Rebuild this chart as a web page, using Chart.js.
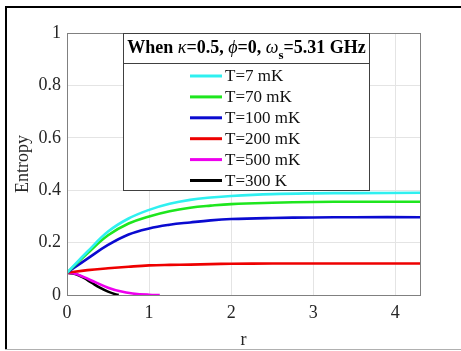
<!DOCTYPE html>
<html>
<head>
<meta charset="utf-8">
<script src="https://cdn.jsdelivr.net/npm/chart.js@4.4.0/dist/chart.umd.min.js"></script>
<style>
  html, body { margin: 0; padding: 0; background: #fff; }
</style>
</head>
<body>
<canvas id="entropyChart" width="461" height="351"></canvas>
<script>
// r values (x axis)
const rMain = [0, 0.25, 0.5, 0.75, 1, 1.25, 1.5, 1.75, 2, 2.5, 3, 3.5, 4.3];
const rMagenta = [0, 0.1, 0.2, 0.35, 0.5, 0.65, 0.8, 1.0, 1.13];
const rBlack = [0, 0.1, 0.2, 0.3, 0.4, 0.5, 0.6, 0.63];

// entropy values
const s7mK = [0.085, 0.166, 0.242, 0.292, 0.325, 0.348, 0.363, 0.372, 0.378, 0.385, 0.388, 0.389, 0.390];
const s70mK = [0.085, 0.159, 0.228, 0.273, 0.300, 0.320, 0.333, 0.341, 0.347, 0.352, 0.355, 0.356, 0.356];
const s100mK = [0.085, 0.139, 0.191, 0.231, 0.254, 0.268, 0.277, 0.285, 0.290, 0.294, 0.296, 0.297, 0.297];
const s200mK = [0.085, 0.095, 0.102, 0.108, 0.113, 0.115, 0.116, 0.118, 0.119, 0.120, 0.120, 0.120, 0.120];
const s500mK = [0.085, 0.081, 0.069, 0.048, 0.028, 0.014, 0.006, 0.001, 0];
const s300K = [0.085, 0.080, 0.066, 0.047, 0.028, 0.013, 0.002, 0];

const seriesLabels = ['T=7 mK', 'T=70 mK', 'T=100 mK', 'T=200 mK', 'T=500 mK', 'T=300 K'];
const seriesColors = ['#2ff0f0', '#1ee61e', '#0a0ad0', '#ee0000', '#ee00ee', '#000000'];
const xTicks = [0, 1, 2, 3, 4];

const serif = '"Liberation Serif", "DejaVu Serif", serif';

function pts(xs, ys) {
    return xs.map((x, i) => ({ x: x, y: ys[i] }));
}

// frame round the figure and box round the axes
const framePlugin = {
    id: 'framePlugin',
    beforeDraw(chart) {
        const c = chart.ctx;
        c.save();
        c.fillStyle = '#fff';
        c.fillRect(0, 0, chart.width, chart.height);
        c.strokeStyle = '#000';
        c.lineWidth = 2;
        c.beginPath();
        c.moveTo(5, 7);
        c.lineTo(461, 7);
        c.moveTo(6, 6);
        c.lineTo(6, 350);
        c.stroke();
        c.strokeStyle = '#b0b0b0';
        c.lineWidth = 1;
        c.beginPath();
        c.moveTo(5, 349.5);
        c.lineTo(461, 349.5);
        c.stroke();
        c.restore();
    },
    afterDatasetsDraw(chart) {
        const a = chart.chartArea;
        const c = chart.ctx;
        c.save();
        c.strokeStyle = '#808080';
        c.lineWidth = 1;
        c.strokeRect(Math.round(a.left) + 0.5, Math.round(a.top) + 0.5,
            Math.round(a.right - a.left), Math.round(a.bottom - a.top));
        c.restore();
    }
};

// legend box with the title row, placed inside the axes
const boxLegendPlugin = {
    id: 'boxLegend',
    afterDraw(chart) {
        const c = chart.ctx;
        const x0 = 123.5, y0 = 33.5, x1 = 369.5, ySep = 63.5, y1 = 190.5;
        c.save();
        c.fillStyle = '#fff';
        c.fillRect(x0, y0, x1 - x0, y1 - y0);
        c.strokeStyle = '#404040';
        c.lineWidth = 1;
        c.strokeRect(x0, y0, x1 - x0, y1 - y0);
        c.beginPath();
        c.moveTo(x0, ySep);
        c.lineTo(x1, ySep);
        c.stroke();

        // title with greek letters and subscript
        const fs = 18;
        const parts = [
            { t: 'When ', f: `bold ${fs}px ${serif}` },
            { t: 'κ', f: `italic ${fs}px ${serif}` },
            { t: '=0.5, ', f: `bold ${fs}px ${serif}` },
            { t: 'ϕ', f: `italic ${fs}px ${serif}` },
            { t: '=0, ', f: `bold ${fs}px ${serif}` },
            { t: 'ω', f: `italic ${fs}px ${serif}` },
            { t: 's', f: `bold ${fs * 0.72}px ${serif}`, sub: true },
            { t: '=5.31 GHz', f: `bold ${fs}px ${serif}` }
        ];
        let total = 0;
        parts.forEach(p => { c.font = p.f; p.w = c.measureText(p.t).width; total += p.w; });
        let tx = (x0 + x1) / 2 - total / 2;
        const base = 52.5;
        c.fillStyle = '#000';
        c.textBaseline = 'alphabetic';
        c.textAlign = 'left';
        parts.forEach(p => {
            c.font = p.f;
            c.fillText(p.t, tx, p.sub ? base + 6 : base);
            tx += p.w;
        });

        // entries
        const ds = chart.data.datasets;
        c.font = `17px ${serif}`;
        c.textBaseline = 'middle';
        ds.forEach((d, i) => {
            const yy = 76 + i * 20.9;
            c.strokeStyle = d.borderColor;
            c.lineWidth = 3;
            c.beginPath();
            c.moveTo(190, yy);
            c.lineTo(222, yy);
            c.stroke();
            c.fillStyle = '#111';
            c.fillText(d.label, 225, yy + 1);
        });
        c.restore();
    }
};

const allX = [rMain, rMain, rMain, rMain, rMagenta, rBlack];
const allY = [s7mK, s70mK, s100mK, s200mK, s500mK, s300K];

const datasets = seriesLabels.map((lab, i) => ({
    label: lab,
    data: pts(allX[i], allY[i]),
    borderColor: seriesColors[i],
    backgroundColor: seriesColors[i],
    borderWidth: 2.6,
    pointRadius: 0,
    fill: false,
    tension: 0.4
}));

new Chart(document.getElementById('entropyChart').getContext('2d'), {
    type: 'line',
    data: { datasets: datasets },
    options: {
        responsive: false,
        animation: false,
        layout: { padding: { left: 0, top: 33, right: 41, bottom: 0 } },
        plugins: {
            legend: { display: false },
            tooltip: { enabled: false }
        },
        scales: {
            x: {
                type: 'linear',
                min: 0,
                max: 4.3,
                afterBuildTicks: s => { s.ticks = xTicks.map(v => ({ value: v })); },
                afterFit: s => { s.height = 56; },
                grid: { color: '#e4e4e4', drawTicks: false },
                border: { display: false },
                ticks: { font: { family: serif, size: 18 }, color: '#262626', padding: 7, maxRotation: 0 },
                title: { display: true, text: 'r', font: { family: serif, size: 18 }, color: '#262626', padding: { top: 0, bottom: 0 } }
            },
            y: {
                min: 0,
                max: 1,
                afterFit: s => { s.width = 67; },
                grid: { color: '#e4e4e4', drawTicks: false },
                border: { display: false },
                ticks: {
                    stepSize: 0.2,
                    font: { family: serif, size: 18 },
                    color: '#262626',
                    padding: 6,
                    callback: v => String(Math.round(v * 10) / 10)
                },
                title: { display: true, text: 'Entropy', font: { family: serif, size: 18 }, color: '#262626', padding: { top: 12, bottom: 0 } }
            }
        }
    },
    plugins: [framePlugin, boxLegendPlugin]
});
</script>
</body>
</html>
